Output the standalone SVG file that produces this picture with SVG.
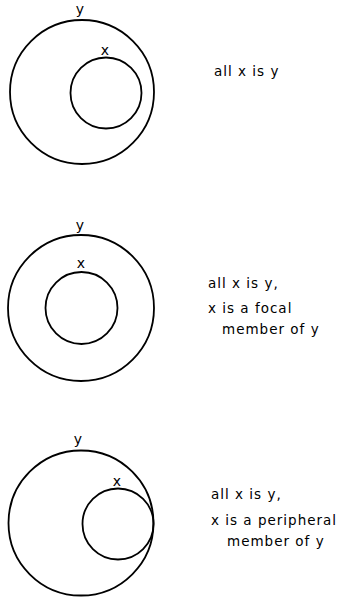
<svg xmlns="http://www.w3.org/2000/svg" width="339" height="598" viewBox="0 0 339 598">
<style>
.c{fill:none;stroke:#000;stroke-width:1.8}
.l{font-family:"DejaVu Sans","Liberation Sans",sans-serif;font-size:14px;fill:#000}
.t{font-family:"DejaVu Sans","Liberation Sans",sans-serif;font-size:13.5px;letter-spacing:1px;fill:#000}
</style>
<rect width="339" height="598" fill="#fff"/>
<g id="d1">
<g id="d1-y"><circle class="c" cx="82" cy="92" r="72"/><text class="l" x="80" y="14" text-anchor="middle">y</text></g>
<g id="d1-x"><circle class="c" cx="106" cy="93" r="35.5"/><text class="l" x="105" y="55" text-anchor="middle">x</text></g>
<text class="t" x="214" y="76">all x is y</text>
</g>
<g id="d2">
<g id="d2-y"><circle class="c" cx="81" cy="308" r="73"/><text class="l" x="80" y="230" text-anchor="middle">y</text></g>
<g id="d2-x"><circle class="c" cx="81.5" cy="308" r="36"/><text class="l" x="81" y="268" text-anchor="middle">x</text></g>
<text class="t" x="208" y="288">all x is y,</text>
<text class="t" x="208" y="313">x is a focal</text>
<text class="t" x="222" y="334">member of y</text>
</g>
<g id="d3">
<g id="d3-y"><circle class="c" cx="81" cy="523" r="72.5"/><text class="l" x="78" y="444" text-anchor="middle">y</text></g>
<g id="d3-x"><circle class="c" cx="118" cy="524" r="35.5"/><text class="l" x="117" y="486" text-anchor="middle">x</text></g>
<text class="t" x="211" y="499">all x is y,</text>
<text class="t" x="211" y="525">x is a peripheral</text>
<text class="t" x="227" y="546">member of y</text>
</g>
</svg>
